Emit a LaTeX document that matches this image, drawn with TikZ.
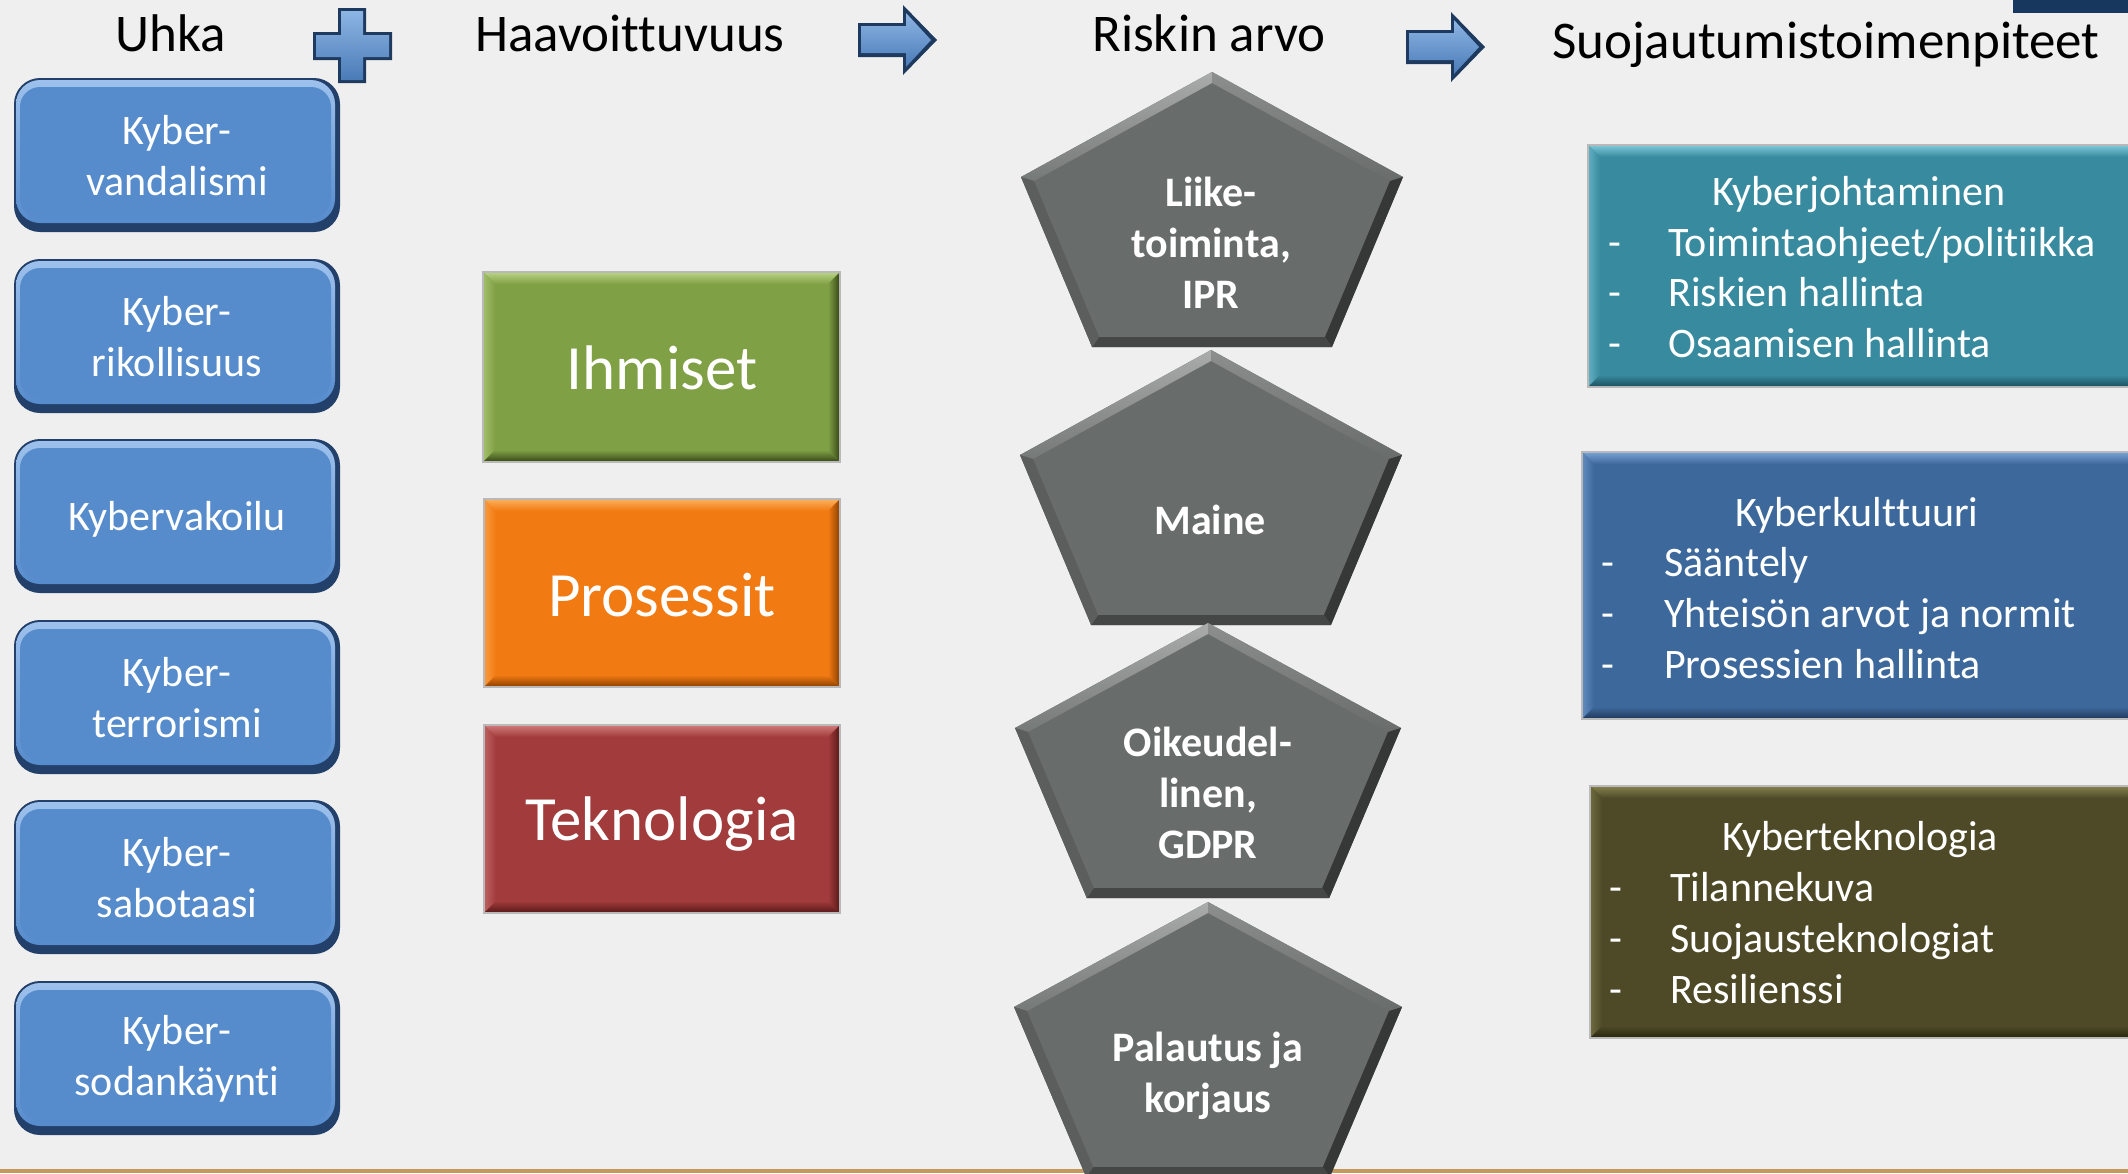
\documentclass[tikz,border=0pt]{standalone}
\usepackage{fontspec}
\setmainfont[Ligatures=NoCommon]{Carlito}
\definecolor{bg}{HTML}{EFEFEF}
\definecolor{bbase}{HTML}{568BCC}
\definecolor{bedge}{HTML}{22406A}
\definecolor{blight}{HTML}{9DC1EC}
\definecolor{gbase}{HTML}{80A046}
\definecolor{glight}{HTML}{B9D483}
\definecolor{gdark}{HTML}{354515}
\definecolor{obase}{HTML}{F27A12}
\definecolor{olight}{HTML}{FBB15E}
\definecolor{odark}{HTML}{8A3F00}
\definecolor{rbase}{HTML}{A23B3B}
\definecolor{rlight}{HTML}{D17A7A}
\definecolor{rdark}{HTML}{561818}
\definecolor{tbase}{HTML}{388A9E}
\definecolor{tlight}{HTML}{7FC8DA}
\definecolor{tdark}{HTML}{1B4E5C}
\definecolor{kbase}{HTML}{3D689B}
\definecolor{klight}{HTML}{79A3D6}
\definecolor{kdark}{HTML}{1E3859}
\definecolor{vbase}{HTML}{4E4A27}
\definecolor{vlight}{HTML}{86804F}
\definecolor{vdark}{HTML}{27250F}
\definecolor{pbase}{HTML}{686C6A}
\definecolor{ptl}{HTML}{A9ACAA}
\definecolor{ptr}{HTML}{8C8F8D}
\definecolor{pdr}{HTML}{353837}
\definecolor{pdb}{HTML}{444746}
\definecolor{pdl}{HTML}{5B5E5C}
\definecolor{navy}{HTML}{17375E}
\definecolor{tan}{HTML}{C49A5C}
\definecolor{arrbase}{HTML}{4A7BB7}
\definecolor{arrlight}{HTML}{8DB5E4}
\definecolor{arredge}{HTML}{1E3A5E}

% bevelled rectangle: x1, y1, x2, y2, base, light, dark, bevel width
\newcommand\bevelrect[8]{%
  \fill[#5] (#1,#2) rectangle (#3,#4);
  \shade[top color=#6, bottom color=#5] (#1,#2) -- (#3,#2) -- ({#3-#8},{#2+#8}) -- ({#1+#8},{#2+#8}) -- cycle;
  \shade[left color=#6!60!#5, right color=#5] (#1,#2) -- ({#1+#8},{#2+#8}) -- ({#1+#8},{#4-#8}) -- (#1,#4) -- cycle;
  \shade[left color=#5, right color=#7] (#3,#2) -- (#3,#4) -- ({#3-#8},{#4-#8}) -- ({#3-#8},{#2+#8}) -- cycle;
  \shade[top color=#5, bottom color=#7] (#1,#4) -- ({#1+#8},{#4-#8}) -- ({#3-#8},{#4-#8}) -- (#3,#4) -- cycle;
  \draw[gray!55, line width=1.2] (#1,#2) rectangle (#3,#4);
}
% rounded bevelled box: x1, y1, x2, y2
\newcommand\roundbox[4]{%
  \fill[bedge, rounded corners=26] (#1,#2) rectangle (#3,#4);
  \shade[top color=blight, bottom color=bbase, rounded corners=24] ({#1+2},{#2+2}) rectangle ({#3-5},{#4-9});
  \fill[bbase, rounded corners=20] ({#1+6},{#2+9}) rectangle ({#3-9},{#4-14});
}
% bevelled pentagon: centre x, top y, shoulder half width
\newcommand\pent[3]{%
  \fill[pbase] (#1,#2) -- ({#1+#3},{#2+105}) -- ({#1+0.628*#3},{#2+275}) -- ({#1-0.628*#3},{#2+275}) -- ({#1-#3},{#2+105}) -- cycle;
  \shade[top color=ptl, bottom color=pbase!80!ptl] (#1,#2) -- ({#1-#3},{#2+105}) -- ({#1-#3+13},{#2+109}) -- (#1,{#2+11}) -- cycle;
  \shade[top color=ptr, bottom color=pbase] (#1,#2) -- ({#1+#3},{#2+105}) -- ({#1+#3-13},{#2+109}) -- (#1,{#2+11}) -- cycle;
  \fill[pdr] ({#1+#3},{#2+105}) -- ({#1+0.628*#3},{#2+275}) -- ({#1+0.628*#3-7},{#2+265}) -- ({#1+#3-13},{#2+109}) -- cycle;
  \fill[pdb] ({#1-0.628*#3},{#2+275}) -- ({#1+0.628*#3},{#2+275}) -- ({#1+0.628*#3-7},{#2+265}) -- ({#1-0.628*#3+7},{#2+265}) -- cycle;
  \fill[pdl] ({#1-#3},{#2+105}) -- ({#1-0.628*#3},{#2+275}) -- ({#1-0.628*#3+7},{#2+265}) -- ({#1-#3+13},{#2+109}) -- cycle;
}
% block arrow pointing right: left x, centre y
\newcommand\blockarrow[2]{%
  \fill[arredge] (#1,{#2-17}) -- ({#1+45},{#2-17}) -- ({#1+45},{#2-35}) -- ({#1+79},#2) -- ({#1+45},{#2+35}) -- ({#1+45},{#2+17}) -- (#1,{#2+17}) -- cycle;
  \shade[top color=arrlight, bottom color=arrbase] ({#1+3},{#2-14}) -- ({#1+48},{#2-14}) -- ({#1+48},{#2-27}) -- ({#1+73},#2) -- ({#1+48},{#2+27}) -- ({#1+48},{#2+13}) -- ({#1+3},{#2+13}) -- cycle;
}

\begin{document}
\begin{tikzpicture}[x=1pt,y=-1pt,
  head/.style={font=\fontsize{53}{64}\selectfont, text=black, inner sep=0pt, anchor=base},
  boxlabel/.style={font=\fontsize{42}{51}\selectfont, text=white, align=center, inner sep=0pt},
  pentlabel/.style={font=\fontsize{42}{51}\selectfont\bfseries, text=white, align=center, inner sep=0pt},
  biglabel/.style={font=\fontsize{63}{75}\selectfont, text=white, inner sep=0pt},
  itemtext/.style={font=\fontsize{42}{51}\selectfont, text=white, inner sep=0pt, anchor=base west},
  bulletdash/.style={font=\fontsize{42}{51}\selectfont, text=white, inner sep=0pt, anchor=base},
  boxtitle/.style={font=\fontsize{42}{51}\selectfont, text=white, inner sep=0pt, anchor=base},
]
\useasboundingbox (0,0) rectangle (2128,1173);
\clip (0,0) rectangle (2128,1173);
\fill[bg] (0,0) rectangle (2128,1173);
\fill[navy] (2013,0) rectangle (2128,13);
\fill[tan] (0,1169) rectangle (2128,1173);

% column headings and the signs between them
\node[head] (uhka) at (171,51) {Uhka};
\node[head] (haav) at (630,51) {Haavoittuvuus};
\node[head] (riski) at (1209,51) {Riskin arvo};
\node[head] (suoj) at (1826,58) {Suojautumistoimenpiteet};

\fill[arredge] (313,32) rectangle (392,60) (338,8) rectangle (366,83);
\shade[top color=arrlight, bottom color=arrbase] (316,35) rectangle (389,57) (341,11) rectangle (363,80);
\blockarrow{858}{40}
\blockarrow{1406}{47}

% threats
\roundbox{14}{78}{340}{232}
\roundbox{14}{259}{340}{413}
\roundbox{14}{439}{340}{593}
\roundbox{14}{620}{340}{774}
\roundbox{14}{800}{340}{954}
\roundbox{14}{981}{340}{1135}
\node[boxlabel] (t1) at (177,156) {Kyber-\\vandalismi};
\node[boxlabel] (t2) at (177,337) {Kyber-\\rikollisuus};
\node[boxlabel] (t3) at (177,519) {Kybervakoilu};
\node[boxlabel] (t4) at (177,698) {Kyber-\\terrorismi};
\node[boxlabel] (t5) at (177,878) {Kyber-\\sabotaasi};
\node[boxlabel] (t6) at (177,1059) {Kyber-\\sodankäynti};

% vulnerabilities
\bevelrect{483}{272}{840}{462}{gbase}{glight}{gdark}{12}
\bevelrect{484}{499}{840}{687}{obase}{olight}{odark}{12}
\bevelrect{484}{725}{840}{913}{rbase}{rlight}{rdark}{12}
\node[biglabel] (ihm) at (662,368) {Ihmiset};
\node[biglabel] (pro) at (662,595) {Prosessit};
\node[biglabel] (tek) at (662,824) {Teknologia};

% risk values
\pent{1212}{72}{191}
\pent{1211}{350}{191}
\pent{1208}{623}{193}
\pent{1208}{902}{194}
\node[pentlabel] (p1) at (1211,243) {Liike-\\toiminta,\\IPR};
\node[pentlabel] (p2) at (1210,520) {Maine};
\node[pentlabel] (p3) at (1208,793) {Oikeudel-\\linen,\\GDPR};
\node[pentlabel] (p4) at (1208,1076) {Palautus ja\\korjaus};

% countermeasures
\bevelrect{1588}{145}{2150}{387}{tbase}{tlight}{tdark}{12}
\bevelrect{1582}{452}{2150}{719}{kbase}{klight}{kdark}{12}
\bevelrect{1590}{786}{2150}{1038}{vbase}{vlight}{vdark}{12}

\node[boxtitle] (c1) at (1859,205) {Kyberjohtaminen};
\node[bulletdash] (c1d1) at (1615,256) {-};
\node[bulletdash] (c1d2) at (1615,306) {-};
\node[bulletdash] (c1d3) at (1615,357) {-};
\node[itemtext] (c1a) at (1668,256) {Toimintaohjeet/politiikka};
\node[itemtext] (c1b) at (1668,306) {Riskien hallinta};
\node[itemtext] (c1c) at (1668,357) {Osaamisen hallinta};

\node[boxtitle] (c2) at (1857,526) {Kyberkulttuuri};
\node[bulletdash] (c2d1) at (1608,576) {-};
\node[bulletdash] (c2d2) at (1608,627) {-};
\node[bulletdash] (c2d3) at (1608,678) {-};
\node[itemtext] (c2a) at (1664,576) {Sääntely};
\node[itemtext] (c2b) at (1664,627) {Yhteisön arvot ja normit};
\node[itemtext] (c2c) at (1664,678) {Prosessien hallinta};

\node[boxtitle] (c3) at (1860,850) {Kyberteknologia};
\node[bulletdash] (c3d1) at (1616,901) {-};
\node[bulletdash] (c3d2) at (1616,952) {-};
\node[bulletdash] (c3d3) at (1616,1003) {-};
\node[itemtext] (c3a) at (1670,901) {Tilannekuva};
\node[itemtext] (c3b) at (1670,952) {Suojausteknologiat};
\node[itemtext] (c3c) at (1670,1003) {Resilienssi};
\end{tikzpicture}
\end{document}
